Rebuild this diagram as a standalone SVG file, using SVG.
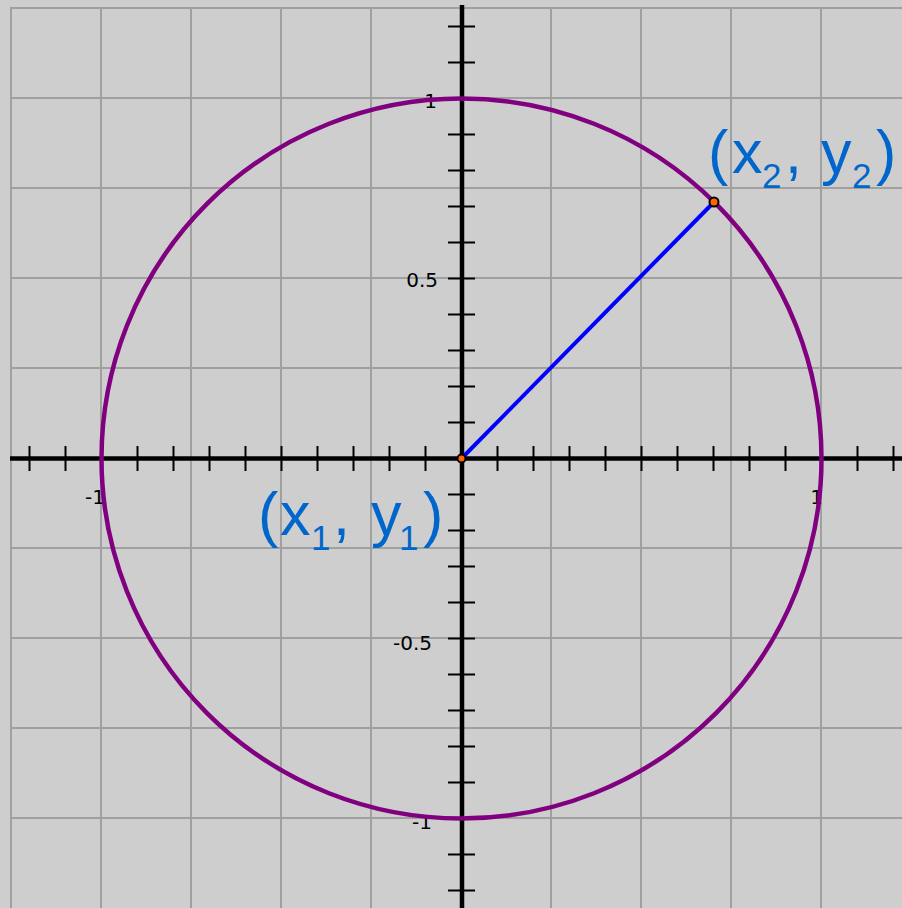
<svg xmlns="http://www.w3.org/2000/svg" width="902" height="908" viewBox="0 0 902 908">
<defs>
<style>
.grid line{stroke:#a0a0a0;stroke-width:2}
.axis{stroke:#000;stroke-width:4.5}
.tick{stroke:#000;stroke-width:2}
.lbl{font-family:"DejaVu Sans",sans-serif;font-size:20px;fill:#000;text-anchor:end}
.pt{font-family:"Liberation Sans",Arial,sans-serif;font-size:61px;fill:#0066cc}
.sub{font-family:"Liberation Sans",Arial,sans-serif;font-size:35px;fill:#0066cc}
.dot{fill:#ff6600;stroke:#000;stroke-width:2}
</style>
</defs>
<rect x="0" y="0" width="902" height="908" fill="#cecece"/>
<g id="grid" class="grid">
<line x1="11" y1="7" x2="11" y2="908"/>
<line x1="101" y1="7" x2="101" y2="908"/>
<line x1="191" y1="7" x2="191" y2="908"/>
<line x1="281" y1="7" x2="281" y2="908"/>
<line x1="371" y1="7" x2="371" y2="908"/>
<line x1="551" y1="7" x2="551" y2="908"/>
<line x1="641" y1="7" x2="641" y2="908"/>
<line x1="731" y1="7" x2="731" y2="908"/>
<line x1="821" y1="7" x2="821" y2="908"/>
<line x1="10" y1="8" x2="902" y2="8"/>
<line x1="10" y1="98" x2="902" y2="98"/>
<line x1="10" y1="188" x2="902" y2="188"/>
<line x1="10" y1="278" x2="902" y2="278"/>
<line x1="10" y1="368" x2="902" y2="368"/>
<line x1="10" y1="548" x2="902" y2="548"/>
<line x1="10" y1="638" x2="902" y2="638"/>
<line x1="10" y1="728" x2="902" y2="728"/>
<line x1="10" y1="818" x2="902" y2="818"/>
</g>
<g id="labels">
<text class="lbl" x="437" y="108">1</text>
<text class="lbl" x="438" y="287">0.5</text>
<text class="lbl" x="432" y="650">-0.5</text>
<text class="lbl" x="432" y="829">-1</text>
<text class="lbl" x="105" y="504">-1</text>
<text class="lbl" x="823" y="504">1</text>
</g>
<g id="axes">
<line class="axis" x1="10" y1="458.5" x2="902" y2="458.5"/>
<line class="axis" x1="462" y1="5" x2="462" y2="908"/>
<g id="xticks" class="tick">
<line x1="29.5" y1="446" x2="29.5" y2="471"/>
<line x1="65.5" y1="446" x2="65.5" y2="471"/>
<line x1="101.5" y1="446" x2="101.5" y2="471"/>
<line x1="137.5" y1="446" x2="137.5" y2="471"/>
<line x1="173.5" y1="446" x2="173.5" y2="471"/>
<line x1="209.5" y1="446" x2="209.5" y2="471"/>
<line x1="245.5" y1="446" x2="245.5" y2="471"/>
<line x1="281.5" y1="446" x2="281.5" y2="471"/>
<line x1="317.5" y1="446" x2="317.5" y2="471"/>
<line x1="353.5" y1="446" x2="353.5" y2="471"/>
<line x1="389.5" y1="446" x2="389.5" y2="471"/>
<line x1="425.5" y1="446" x2="425.5" y2="471"/>
<line x1="497.5" y1="446" x2="497.5" y2="471"/>
<line x1="533.5" y1="446" x2="533.5" y2="471"/>
<line x1="569.5" y1="446" x2="569.5" y2="471"/>
<line x1="605.5" y1="446" x2="605.5" y2="471"/>
<line x1="641.5" y1="446" x2="641.5" y2="471"/>
<line x1="677.5" y1="446" x2="677.5" y2="471"/>
<line x1="713.5" y1="446" x2="713.5" y2="471"/>
<line x1="749.5" y1="446" x2="749.5" y2="471"/>
<line x1="785.5" y1="446" x2="785.5" y2="471"/>
<line x1="821.5" y1="446" x2="821.5" y2="471"/>
<line x1="857.5" y1="446" x2="857.5" y2="471"/>
<line x1="893.5" y1="446" x2="893.5" y2="471"/>
</g>
<g id="yticks" class="tick">
<line x1="448" y1="26.5" x2="475" y2="26.5"/>
<line x1="448" y1="62.5" x2="475" y2="62.5"/>
<line x1="448" y1="98.5" x2="475" y2="98.5"/>
<line x1="448" y1="134.5" x2="475" y2="134.5"/>
<line x1="448" y1="170.5" x2="475" y2="170.5"/>
<line x1="448" y1="206.5" x2="475" y2="206.5"/>
<line x1="448" y1="242.5" x2="475" y2="242.5"/>
<line x1="448" y1="278.5" x2="475" y2="278.5"/>
<line x1="448" y1="314.5" x2="475" y2="314.5"/>
<line x1="448" y1="350.5" x2="475" y2="350.5"/>
<line x1="448" y1="386.5" x2="475" y2="386.5"/>
<line x1="448" y1="422.5" x2="475" y2="422.5"/>
<line x1="448" y1="494.5" x2="475" y2="494.5"/>
<line x1="448" y1="530.5" x2="475" y2="530.5"/>
<line x1="448" y1="566.5" x2="475" y2="566.5"/>
<line x1="448" y1="602.5" x2="475" y2="602.5"/>
<line x1="448" y1="638.5" x2="475" y2="638.5"/>
<line x1="448" y1="674.5" x2="475" y2="674.5"/>
<line x1="448" y1="710.5" x2="475" y2="710.5"/>
<line x1="448" y1="746.5" x2="475" y2="746.5"/>
<line x1="448" y1="782.5" x2="475" y2="782.5"/>
<line x1="448" y1="818.5" x2="475" y2="818.5"/>
<line x1="448" y1="854.5" x2="475" y2="854.5"/>
<line x1="448" y1="890.5" x2="475" y2="890.5"/>
</g>
</g>
<g id="circle">
<circle cx="461.5" cy="458.5" r="360" fill="none" stroke="#800080" stroke-width="4.5"/>
</g>
<g id="connectors">
<line x1="461.5" y1="458.5" x2="714" y2="202" stroke="#0000ff" stroke-width="4"/>
</g>
<g id="p1">
<circle class="dot" cx="461.5" cy="458.5" r="4"/>
<text class="pt" x="258" y="535">(</text>
<text class="pt" x="280" y="535">x</text>
<text class="sub" x="311" y="550">1</text>
<text class="pt" x="333" y="535">,</text>
<text class="pt" x="371" y="535">y</text>
<text class="sub" x="399" y="550">1</text>
<text class="pt" x="423" y="535">)</text>
</g>
<g id="p2">
<circle class="dot" cx="714" cy="202" r="4.5"/>
<text class="pt" x="708" y="173">(</text>
<text class="pt" x="732" y="173">x</text>
<text class="sub" x="762" y="188">2</text>
<text class="pt" x="785" y="173">,</text>
<text class="pt" x="821" y="173">y</text>
<text class="sub" x="852" y="188">2</text>
<text class="pt" x="876" y="173">)</text>
</g>
</svg>
